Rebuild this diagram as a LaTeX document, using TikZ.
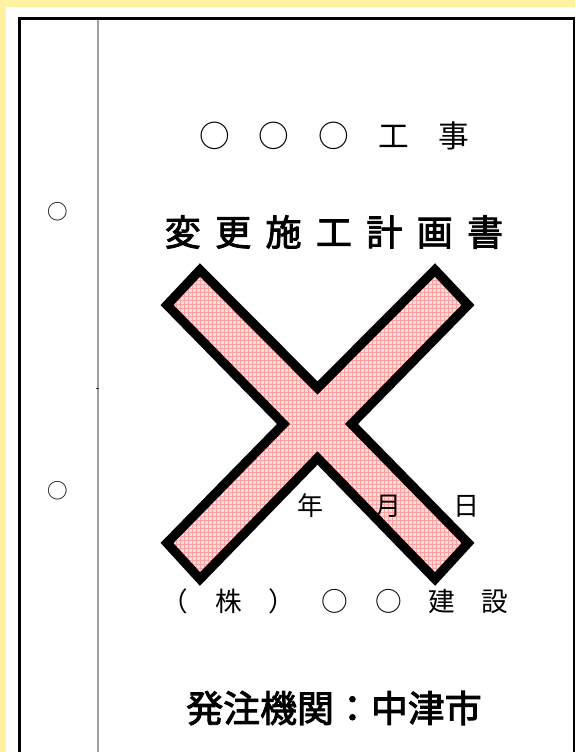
\documentclass[tikz,border=0pt]{standalone}
\usepackage{fontspec}
\setmainfont{Noto Sans CJK JP}
\newfontfamily\jpmed[FakeBold=2.5]{Noto Sans CJK JP}
\usetikzlibrary{patterns}
\definecolor{paper}{RGB}{255,242,160}
\definecolor{crosslight}{RGB}{255,222,222}
\definecolor{crossdark}{RGB}{255,160,160}
\newcommand{\tgap}{\kern.4em}
\tikzset{
    txt/.style={inner sep=0pt, font=\fontsize{#1}{#1}\selectfont},
    cross/.style={line width=7pt, preaction={fill=crosslight}, preaction={pattern=grid, pattern color=crossdark}},
}
\begin{document}
\begin{tikzpicture}[x=0.75pt, y=-0.75pt]
    \useasboundingbox (0,0) rectangle (575,752);
    \fill[paper] (0,0) rectangle (575,752);
    \fill[white] (6,7) rectangle (575,752);
    \draw[line width=1.5pt, gray!75] (97.5,18) -- (97.5,752);
    \draw[line width=0.75pt, gray!40!black] (96,388) -- (99,388);
    \draw[line width=1.8pt] (19.5,752) -- (19.5,18.7) -- (574,18.7) -- (574,752);
    \draw[cross] (200,270) -- (317.5,388) -- (435,270) -- (468,305) -- (351.5,424) -- (468,543) -- (435,579) -- (317.5,458) -- (200,579) -- (167,543) -- (283.5,424) -- (167,305) -- cycle;
    \node[txt=15.4pt] (hole1) at (58,212) {○};
    \node[txt=15.4pt] (hole2) at (58,491) {○};
    \node[txt=23pt] (work) at (334,136) {○\kern.95em ○\kern.95em ○\kern.95em 工\kern.95em 事};
    \node[txt=27pt] (plan) at (334,232) {\jpmed 変\tgap 更\tgap 施\tgap 工\tgap 計\tgap 画\tgap 書};
    \node[txt=19.5pt] (date) at (388.5,506) {年　　月　　日};
    \node[txt=20pt] (firm) at (335,601) {（　株　）　○　○　建　設};
    \node[txt=27.7pt] (client) at (334,708) {\jpmed 発注機関：中津市};
\end{tikzpicture}
\end{document}
